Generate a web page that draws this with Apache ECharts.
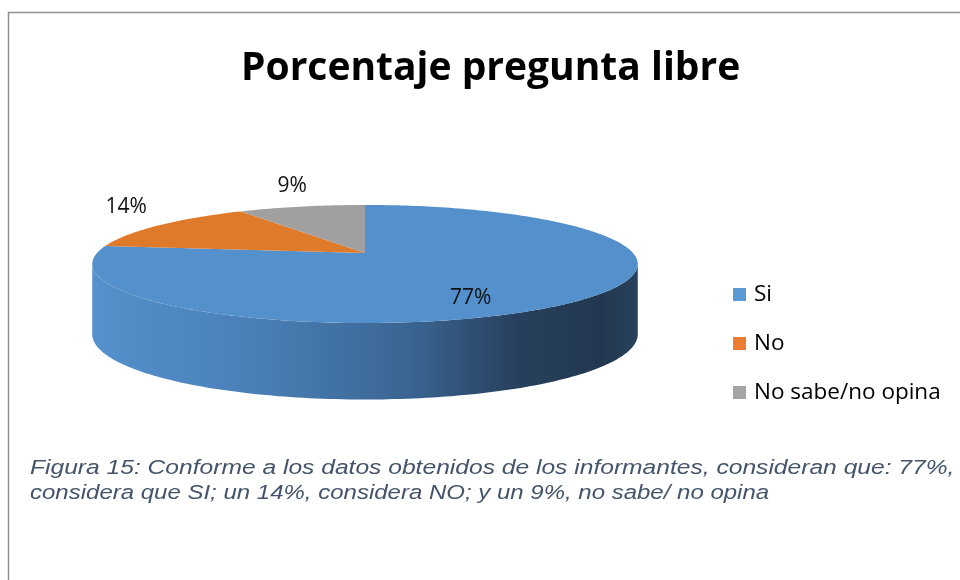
<!DOCTYPE html>
<html>
<head>
<meta charset="utf-8">
<title>Porcentaje pregunta libre</title>
<script src="https://cdn.jsdelivr.net/npm/echarts@6/dist/echarts.min.js"></script>
<style>
html, body { margin: 0; padding: 0; background: #fff; }
#chart { width: 960px; height: 580px; }
</style>
</head>
<body>
<div id="chart"></div>
<script>
// data
const categories = ['Si', 'No', 'No sabe/no opina'];
const values = [77, 14, 9];

// colours
const legendColors = ['#5B9BD5', '#ED7D31', '#A5A5A5'];
const topColors = ['#5490CC', '#E07A2B', '#A0A0A0'];
const sideStops = [
  [[0, '#5591CD'], [0.29, '#4A80B8'], [0.58, '#3A6592'], [0.78, '#27405D'], [0.93, '#233850'], [1, '#28415C']],
  [[0, '#E07A2B'], [1, '#7A3F12']],
  [[0, '#A0A0A0'], [1, '#555555']]
];

// pie geometry (tilted ellipse with a bit of perspective)
const CX = 365, CY = 253, RX = 268, RY = 57, K = 0.186, DEPTH = 69;

const total = values.reduce((a, b) => a + b, 0);

function project(theta, r) {
  // theta: clockwise from 12 o'clock
  let c = Math.sin(theta) * r, s = -Math.cos(theta) * r;
  let w = 1 / (1 - K * s);
  return [CX + RX * c * w, CY + RY * s * w, w];
}

function arcPoints(a0, a1, r) {
  let n = Math.max(2, Math.ceil((a1 - a0) / 0.02));
  let pts = [];
  for (let i = 0; i <= n; i++) {
    pts.push(project(a0 + (a1 - a0) * i / n, r));
  }
  return pts;
}

function sliceAngles(idx) {
  let before = 0;
  for (let i = 0; i < idx; i++) before += values[i];
  return [before / total * Math.PI * 2, (before + values[idx]) / total * Math.PI * 2];
}

function renderSlice(params, api) {
  let idx = params.seriesIndex;
  let v = api.value(0);
  let [a0, a1] = sliceAngles(idx);
  let children = [];

  // front wall, only the part that faces the viewer
  let f0 = Math.acos(-K), f1 = Math.PI * 2 - Math.acos(-K);
  let lo = Math.max(a0, f0), hi = Math.min(a1, f1);
  if (hi > lo) {
    let topEdge = arcPoints(lo, hi, 1);
    let pts = topEdge.map(p => [p[0], p[1]]);
    for (let i = topEdge.length - 1; i >= 0; i--) {
      let p = topEdge[i];
      pts.push([p[0], p[1] + DEPTH * Math.sqrt(p[2])]);
    }
    children.push({
      type: 'polygon',
      shape: { points: pts },
      style: {
        fill: {
          type: 'linear', global: true,
          x: CX - RX * 1.02, y: 0, x2: CX + RX * 1.02, y2: 0,
          colorStops: sideStops[idx].map(s => ({ offset: s[0], color: s[1] }))
        }
      }
    });
  }

  // top face
  let top = [[CX, CY]].concat(arcPoints(a0, a1, 1).map(p => [p[0], p[1]]));
  children.push({
    type: 'polygon',
    shape: { points: top },
    style: { fill: topColors[idx] }
  });

  // data label
  let mid = (a0 + a1) / 2;
  let pct = Math.round(v / total * 100) + '%';
  let inside = v / total > 0.5;
  let lp = project(mid, inside ? 0.55 : 1.18);
  children.push({
    type: 'text',
    x: lp[0],
    y: inside ? lp[1] + 20 : lp[1] - 3,
    style: {
      text: pct,
      fill: '#111',
      font: '21px "Open Sans"',
      align: 'center',
      verticalAlign: inside ? 'middle' : 'bottom'
    }
  });

  return { type: 'group', children: children };
}

let chart = echarts.init(document.getElementById('chart'), null, { renderer: 'canvas' });

let series = categories.map((name, i) => ({
  name: name,
  type: 'custom',
  coordinateSystem: 'none',
  renderItem: renderSlice,
  itemStyle: { color: legendColors[i] },
  data: [[values[i]]],
  animation: false,
  silent: true
}));

chart.setOption({
  backgroundColor: '#fff',
  animation: false,
  title: {
    text: 'Porcentaje pregunta libre',
    left: 236,
    top: 44,
    textStyle: {
      fontFamily: 'Open Sans',
      fontWeight: 'bold',
      fontSize: 39,
      color: '#000'
    }
  },
  legend: {
    data: categories,
    orient: 'vertical',
    left: 728,
    top: 278,
    icon: 'rect',
    itemWidth: 13,
    itemHeight: 13,
    itemGap: 26,
    selectedMode: false,
    textStyle: {
      fontFamily: 'Open Sans',
      fontSize: 22.5,
      lineHeight: 22,
      color: '#000',
      padding: [0, 0, 0, 3]
    }
  },
  graphic: [
    {
      type: 'rect',
      shape: { x: 8.5, y: 12.5, width: 970, height: 600 },
      style: { fill: 'none', stroke: '#8f8f8f', lineWidth: 1.5 },
      silent: true
    },
    {
      type: 'text',
      x: 30,
      y: 458,
      scaleX: 1.23,
      style: {
        text: 'Figura 15: Conforme a los datos obtenidos de los informantes, consideran que: 77%,',
        font: 'italic 20px "Liberation Sans"',
        fill: '#44546A',
        verticalAlign: 'top'
      },
      silent: true
    },
    {
      type: 'text',
      x: 30,
      y: 483,
      scaleX: 1.2,
      style: {
        text: 'considera que SI; un 14%, considera NO; y un 9%, no sabe/ no opina',
        font: 'italic 20px "Liberation Sans"',
        fill: '#44546A',
        verticalAlign: 'top'
      },
      silent: true
    }
  ],
  series: series
});
</script>
</body>
</html>
